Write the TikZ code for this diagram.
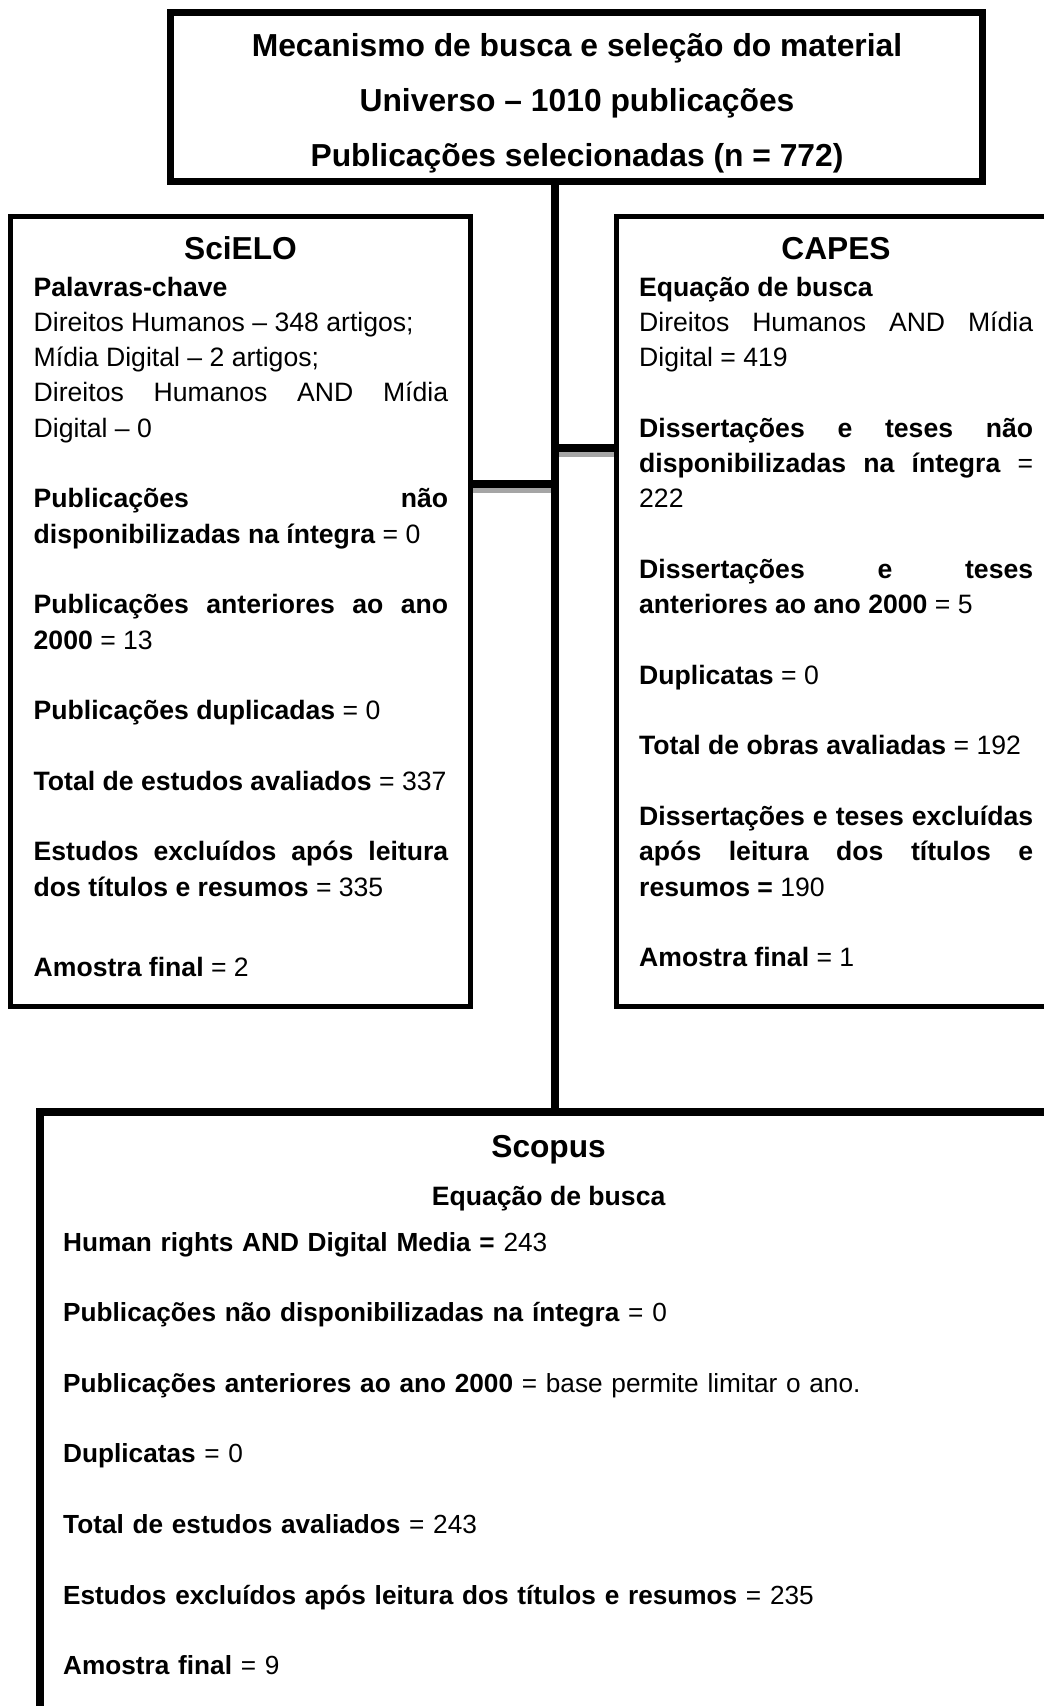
\documentclass[tikz,border=0pt]{standalone}
\usepackage{fontspec}
\setmainfont{Liberation Sans}
\definecolor{shade}{RGB}{165,165,165}
\newcommand\bodyfs{\fontsize{26.6pt}{35.3pt}\selectfont\hyphenpenalty=10000 \exhyphenpenalty=10000 \tolerance=10000 \hbadness=10000 \hfuzz=3pt}
\newcommand\scopfs{\fontsize{26.2pt}{35.3pt}\selectfont}
\newcommand\headfs{\fontsize{31.7pt}{38pt}\selectfont\bfseries}
\newcommand\pgap{\par\vspace{35.3pt}}
\begin{document}
\begin{tikzpicture}[x=1pt,y=1pt,
  box/.style={draw=black, rectangle, inner sep=0pt},
  conn/.style={draw=black, line width=8pt},
  shadowline/.style={draw=shade, line width=5pt},
  para/.style={anchor=base west, inner sep=0pt, text width=#1, align=justify, font=\bodyfs},
  head/.style={anchor=base, inner sep=0pt, font=\headfs},
  topline/.style={anchor=base, inner sep=0pt, font=\fontsize{31.8pt}{38pt}\selectfont\bfseries}]
\useasboundingbox (0,0) rectangle (1044,-1706);
\fill[white] (0,0) rectangle (1044,-1706);

% boxes
\node[box, line width=7pt, minimum width=812pt, minimum height=169pt] (top) at (576,-96.5) {};
\node[box, line width=5pt, minimum width=460pt, minimum height=789.5pt] (scielo) at (240.5,-611.25) {};
\node[box, line width=5pt, minimum width=454pt, minimum height=789.5pt] (capes) at (843,-611.25) {};
\node[box, line width=8pt, minimum width=1030pt, minimum height=620pt] (scopus) at (555,-1422) {};

% connector geometry
\coordinate (spine) at (555,0);
\coordinate (jc) at (0,-447.5);
\coordinate (js) at (0,-484);
\coordinate (jch) at (0,-454);
\coordinate (jsh) at (0,-490.5);

% grey shadows under the branches
\draw[shadowline] (scielo.east |- jsh) -- (jsh -| spine);
\draw[shadowline] (jch -| spine) -- (capes.west |- jch);

% connectors
\draw[conn] (top.south -| spine) -- (scopus.north -| spine);
\draw[conn] (scielo.east |- js) -- (js -| spine);
\draw[conn] (jc -| spine) -- (capes.west |- jc);

% top box text
\node[topline] (t1) at (577,-56) {Mecanismo de busca e seleção do material};
\node[topline] (t2) at (577,-111.5) {Universo – 1010 publicações};
\node[topline] (t3) at (577,-166) {Publicações selecionadas (n = 772)};

% titles
\node[head] (h1) at (240.5,-259.3) {SciELO};
\node[head] (h2) at (836,-259.3) {CAPES};
\node[head] (h3) at (548.6,-1157) {Scopus};
\node[anchor=base, inner sep=0pt, font=\bodyfs\bfseries] (h3b) at (548.6,-1205.5) {Equação de busca};

% SciELO text
\node[para=414.5pt] (p1) at (33.5,-296) {%
\textbf{Palavras-chave}\par
Direitos Humanos – 348 artigos;\par
Mídia Digital – 2 artigos;\par
Direitos Humanos AND Mídia\linebreak Digital – 0\pgap
\textbf{Publicações não\linebreak disponibilizadas na íntegra} = 0\pgap
\textbf{Publicações anteriores ao ano\linebreak 2000} = 13\pgap
\textbf{Publicações duplicadas} = 0\pgap
\textbf{Total de estudos avaliados} = 337\pgap
\textbf{Estudos excluídos após leitura\linebreak dos títulos e resumos} = 335\par\vspace{45pt}
\textbf{Amostra final} = 2};

% CAPES text
\node[para=394pt] (p2) at (639,-296) {%
\textbf{Equação de busca}\par
Direitos Humanos AND Mídia\linebreak Digital = 419\pgap
\textbf{Dissertações e teses não\linebreak disponibilizadas na íntegra} =\linebreak 222\pgap
\textbf{Dissertações e teses\linebreak anteriores ao ano 2000} = 5\pgap
\textbf{Duplicatas} = 0\pgap
\textbf{Total de obras avaliadas} = 192\pgap
\textbf{Dissertações e teses excluídas\linebreak após leitura dos títulos e\linebreak resumos =} 190\pgap
\textbf{Amostra final} = 1};

% Scopus text
\node[anchor=base west, inner sep=0pt, text width=960pt, align=left, font=\bodyfs\scopfs] (p3) at (63,-1251) {%
\textbf{Human rights AND Digital Media =} 243\pgap
\textbf{Publicações não disponibilizadas na íntegra} = 0\pgap
\textbf{Publicações anteriores ao ano 2000} = base permite limitar o ano.\pgap
\textbf{Duplicatas} = 0\pgap
\textbf{Total de estudos avaliados} = 243\pgap
\textbf{Estudos excluídos após leitura dos títulos e resumos} = 235\pgap
\textbf{Amostra final} = 9};
\end{tikzpicture}
\end{document}
